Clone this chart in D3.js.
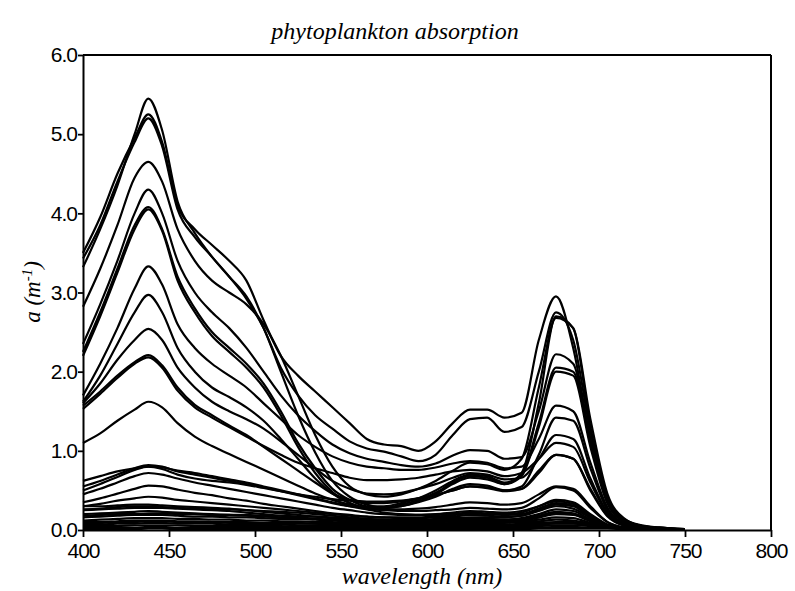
<!DOCTYPE html>
<html><head><meta charset="utf-8">
<script src="https://cdn.jsdelivr.net/npm/d3@7"></script>
<style>body{margin:0;background:#fff}</style>
</head><body>
<svg id="c" width="795" height="591"></svg>
<script>
const wavelengths = [400,410,420,430,438,446,455,465,475,485,495,505,515,525,535,545,555,565,575,585,595,605,615,625,635,645,655,665,675,685,695,705,715,725,735,750];
const xTicks = [400,450,500,550,600,650,700,750,800];
const yTicks = [0,1,2,3,4,5,6];
const titleText = "phytoplankton absorption";
const xLabel = "wavelength (nm)";

const s01 = [3.32,3.8,4.35,5.0,5.45,5.05,4.15,3.75,3.45,3.2,2.95,2.55,2.0,1.45,0.98,0.62,0.42,0.32,0.28,0.3,0.36,0.45,0.58,0.66,0.64,0.58,0.72,1.6,2.7,2.55,1.3,0.4,0.12,0.05,0.03,0.01];
const s02 = [3.5,3.95,4.5,4.95,5.25,4.9,4.1,3.8,3.6,3.4,3.15,2.65,2.2,1.95,1.75,1.55,1.35,1.15,1.08,1.06,1.0,1.12,1.35,1.52,1.52,1.42,1.48,2.4,2.95,2.3,1.15,0.38,0.13,0.06,0.03,0.01];
const s03 = [3.43,3.85,4.4,4.9,5.2,4.85,4.05,3.7,3.45,3.2,2.92,2.55,2.05,1.7,1.45,1.28,1.12,1.03,0.99,0.93,0.87,0.95,1.2,1.4,1.42,1.24,1.3,2.0,2.75,2.4,1.25,0.4,0.13,0.05,0.03,0.01];
const s04 = [2.82,3.3,3.85,4.45,4.65,4.4,3.8,3.4,3.15,3.0,2.85,2.6,2.2,1.7,1.2,0.8,0.55,0.45,0.42,0.45,0.52,0.62,0.75,0.85,0.83,0.76,0.9,1.8,2.68,2.55,1.4,0.45,0.14,0.05,0.03,0.01];
const s05 = [2.35,2.85,3.4,4.0,4.3,4.0,3.4,3.0,2.75,2.55,2.3,2.0,1.7,1.45,1.25,1.08,0.97,0.9,0.86,0.82,0.8,0.84,0.94,1.01,1.0,0.9,0.92,1.5,2.22,2.1,1.15,0.38,0.12,0.05,0.02,0];
const s06 = [2.25,2.75,3.3,3.85,4.08,3.8,3.2,2.8,2.5,2.3,2.1,1.85,1.5,1.1,0.78,0.52,0.38,0.3,0.3,0.34,0.4,0.5,0.62,0.7,0.68,0.6,0.7,1.35,2.05,2.0,1.1,0.35,0.1,0.04,0.02,0];
const s07 = [2.2,2.7,3.25,3.8,4.05,3.78,3.15,2.75,2.45,2.25,2.05,1.8,1.45,1.05,0.72,0.48,0.34,0.28,0.28,0.32,0.38,0.47,0.6,0.68,0.66,0.58,0.68,1.3,2.0,1.95,1.05,0.33,0.1,0.04,0.02,0];
const s08 = [1.7,2.1,2.55,3.05,3.33,3.1,2.6,2.3,2.1,1.95,1.8,1.6,1.4,1.2,1.05,0.93,0.85,0.8,0.78,0.76,0.76,0.79,0.84,0.87,0.85,0.78,0.8,1.15,1.57,1.5,0.85,0.28,0.08,0.03,0.02,0];
const s09 = [1.62,1.95,2.35,2.75,2.97,2.75,2.3,2.0,1.8,1.68,1.55,1.38,1.15,0.9,0.65,0.46,0.34,0.28,0.28,0.3,0.35,0.42,0.52,0.58,0.56,0.5,0.55,0.95,1.42,1.38,0.78,0.25,0.07,0.03,0.01,0];
const s10 = [1.6,1.85,2.15,2.4,2.54,2.4,2.05,1.8,1.62,1.5,1.4,1.28,1.12,0.95,0.78,0.62,0.52,0.46,0.45,0.47,0.52,0.58,0.66,0.72,0.7,0.64,0.66,0.9,1.2,1.15,0.65,0.22,0.07,0.03,0.01,0];
const s11 = [1.57,1.75,1.95,2.12,2.21,2.08,1.8,1.58,1.45,1.32,1.2,1.05,0.9,0.75,0.6,0.46,0.38,0.34,0.34,0.36,0.4,0.44,0.5,0.55,0.54,0.5,0.52,0.72,0.95,0.9,0.52,0.18,0.06,0.02,0.01,0];
const s12 = [1.53,1.72,1.92,2.1,2.18,2.05,1.76,1.55,1.42,1.3,1.18,1.06,0.95,0.85,0.78,0.72,0.66,0.63,0.63,0.64,0.66,0.7,0.74,0.76,0.74,0.68,0.72,0.9,1.1,1.05,0.6,0.2,0.06,0.02,0.01,0];
const s13 = [1.1,1.22,1.38,1.52,1.62,1.55,1.35,1.18,1.06,0.96,0.86,0.76,0.66,0.56,0.46,0.38,0.32,0.28,0.26,0.26,0.27,0.29,0.32,0.35,0.34,0.32,0.34,0.45,0.55,0.52,0.3,0.1,0.03,0.01,0.01,0];
const s14 = [0.55,0.62,0.7,0.78,0.82,0.8,0.74,0.7,0.66,0.62,0.58,0.54,0.49,0.44,0.39,0.34,0.3,0.27,0.25,0.24,0.24,0.25,0.26,0.28,0.27,0.26,0.28,0.4,0.54,0.5,0.28,0.1,0.03,0.01,0,0];
const s15 = [0.62,0.68,0.74,0.78,0.8,0.79,0.75,0.72,0.68,0.64,0.6,0.55,0.5,0.45,0.4,0.35,0.3,0.26,0.22,0.2,0.19,0.19,0.2,0.22,0.21,0.2,0.22,0.3,0.38,0.35,0.2,0.07,0.02,0.01,0,0];
const s16 = [0.45,0.52,0.6,0.68,0.72,0.7,0.65,0.6,0.56,0.52,0.48,0.44,0.4,0.36,0.32,0.28,0.25,0.22,0.2,0.19,0.19,0.2,0.22,0.24,0.23,0.22,0.24,0.3,0.36,0.33,0.18,0.06,0.02,0.01,0,0];
const s17 = [0.35,0.4,0.46,0.52,0.56,0.55,0.51,0.47,0.44,0.4,0.37,0.33,0.3,0.27,0.24,0.21,0.19,0.17,0.16,0.15,0.15,0.16,0.17,0.19,0.18,0.17,0.18,0.24,0.3,0.27,0.15,0.05,0.02,0.01,0,0];
const s18 = [0.5,0.58,0.67,0.76,0.8,0.77,0.7,0.65,0.62,0.6,0.57,0.53,0.49,0.45,0.42,0.39,0.37,0.36,0.36,0.37,0.4,0.44,0.5,0.55,0.53,0.49,0.52,0.75,0.95,0.9,0.5,0.17,0.05,0.02,0.01,0];
const s19 = [0.3,0.3,0.31,0.32,0.32,0.31,0.3,0.29,0.28,0.27,0.25,0.23,0.21,0.19,0.17,0.15,0.14,0.13,0.13,0.13,0.13,0.14,0.15,0.16,0.16,0.16,0.18,0.25,0.32,0.3,0.16,0.06,0.02,0.01,0,0];
const s20 = [0.25,0.26,0.27,0.28,0.28,0.28,0.27,0.26,0.25,0.24,0.22,0.2,0.18,0.16,0.14,0.13,0.12,0.11,0.11,0.11,0.11,0.12,0.13,0.14,0.14,0.13,0.15,0.2,0.26,0.24,0.13,0.05,0.02,0.01,0,0];
const s21 = [0.2,0.21,0.22,0.23,0.24,0.23,0.22,0.21,0.2,0.19,0.18,0.17,0.16,0.15,0.14,0.13,0.12,0.12,0.12,0.12,0.12,0.12,0.13,0.13,0.13,0.12,0.13,0.16,0.2,0.19,0.11,0.04,0.02,0.01,0,0];
const s22 = [0.16,0.17,0.18,0.19,0.19,0.19,0.18,0.17,0.17,0.16,0.16,0.15,0.14,0.14,0.13,0.12,0.11,0.11,0.1,0.1,0.1,0.1,0.11,0.11,0.11,0.1,0.11,0.13,0.16,0.15,0.09,0.04,0.02,0.01,0,0];
const s23 = [0.12,0.13,0.14,0.15,0.15,0.15,0.14,0.14,0.13,0.13,0.12,0.12,0.11,0.11,0.1,0.1,0.09,0.09,0.09,0.08,0.08,0.08,0.09,0.09,0.09,0.09,0.1,0.11,0.13,0.12,0.08,0.04,0.02,0.01,0,0];
const s24 = [0.1,0.1,0.11,0.12,0.12,0.12,0.11,0.11,0.1,0.1,0.1,0.09,0.09,0.09,0.08,0.08,0.08,0.07,0.07,0.07,0.07,0.07,0.07,0.08,0.08,0.07,0.08,0.09,0.1,0.1,0.07,0.04,0.02,0.01,0.01,0];
const s25 = [0.07,0.07,0.08,0.08,0.09,0.09,0.08,0.08,0.08,0.07,0.07,0.07,0.07,0.06,0.06,0.06,0.06,0.06,0.05,0.05,0.05,0.05,0.06,0.06,0.06,0.06,0.06,0.07,0.08,0.08,0.06,0.04,0.03,0.02,0.01,0];
const s26 = [0.05,0.05,0.05,0.06,0.06,0.06,0.06,0.05,0.05,0.05,0.05,0.05,0.05,0.04,0.04,0.04,0.04,0.04,0.04,0.04,0.04,0.04,0.04,0.04,0.04,0.04,0.05,0.05,0.06,0.06,0.05,0.04,0.03,0.02,0.01,0];
const s27 = [0.03,0.03,0.03,0.03,0.04,0.04,0.03,0.03,0.03,0.03,0.03,0.03,0.03,0.03,0.03,0.03,0.03,0.03,0.03,0.02,0.02,0.02,0.02,0.02,0.03,0.03,0.03,0.03,0.04,0.04,0.03,0.03,0.02,0.02,0.01,0];
const s28 = [0.3,0.33,0.37,0.4,0.42,0.41,0.38,0.36,0.34,0.32,0.3,0.28,0.26,0.24,0.22,0.2,0.18,0.17,0.16,0.16,0.16,0.17,0.19,0.21,0.2,0.19,0.2,0.27,0.34,0.31,0.17,0.06,0.02,0.01,0,0];
const s29 = [0.26,0.27,0.29,0.3,0.3,0.29,0.28,0.27,0.26,0.26,0.25,0.24,0.23,0.22,0.2,0.18,0.16,0.14,0.12,0.11,0.1,0.1,0.11,0.12,0.12,0.11,0.12,0.16,0.22,0.2,0.12,0.05,0.02,0.01,0,0];
const s30 = [0.18,0.19,0.2,0.2,0.21,0.21,0.2,0.2,0.19,0.19,0.19,0.18,0.18,0.17,0.17,0.16,0.15,0.14,0.13,0.12,0.12,0.12,0.13,0.14,0.14,0.13,0.14,0.18,0.23,0.21,0.12,0.05,0.02,0.01,0,0];
const s31 = [0.08,0.09,0.1,0.1,0.11,0.11,0.1,0.1,0.1,0.09,0.09,0.09,0.08,0.08,0.08,0.07,0.07,0.07,0.07,0.06,0.06,0.06,0.06,0.07,0.07,0.06,0.07,0.08,0.09,0.09,0.06,0.04,0.02,0.01,0.01,0];
const s32 = [0.01,0.01,0.01,0.01,0.02,0.02,0.01,0.01,0.01,0.01,0.01,0.01,0.01,0.01,0.01,0.01,0.01,0.01,0.01,0.01,0.01,0.01,0.01,0.01,0.01,0.01,0.01,0.02,0.02,0.02,0.02,0.02,0.01,0.01,0.01,0];

const seriesList = [s01,s02,s03,s04,s05,s06,s07,s08,s09,s10,s11,s12,s13,s14,s15,s16,s17,s18,s19,s20,s21,s22,s23,s24,s25,s26,s27,s28,s29,s30,s31,s32];

const svg = d3.select("#c");
const L = 83, R = 771, T = 55, B = 530;
const x = d3.scaleLinear().domain([400,800]).range([L,R]);
const y = d3.scaleLinear().domain([0,6]).range([B,T]);

const line = d3.line().x((d,i)=>x(wavelengths[i])).y(d=>y(d)).curve(d3.curveMonotoneX);
svg.append("g").selectAll("path").data(seriesList).join("path")
  .attr("d", line).attr("fill","none").attr("stroke","#000")
  .attr("stroke-width",2.2).attr("stroke-linejoin","round");

const tickFont = "'Liberation Sans', Arial, sans-serif";
const gx = svg.append("g").attr("transform",`translate(0,${B})`)
  .call(d3.axisBottom(x).tickValues(xTicks).tickFormat(d3.format("d")).tickSize(7).tickSizeOuter(0).tickPadding(6));
const gy = svg.append("g").attr("transform",`translate(${L},0)`)
  .call(d3.axisLeft(y).tickValues(yTicks).tickFormat(d3.format(".1f")).tickSize(5).tickSizeOuter(0).tickPadding(1));
[gx,gy].forEach(g=>{
  g.select(".domain").attr("stroke","#000").attr("stroke-width",2);
  g.selectAll(".tick line").attr("stroke","#000").attr("stroke-width",1.8);
  g.selectAll(".tick text").attr("fill","#000").style("font-family",tickFont)
   .style("font-size","21px").style("letter-spacing","-1px");
});
svg.append("line").attr("x1",L).attr("x2",R).attr("y1",T).attr("y2",T).attr("stroke","#000").attr("stroke-width",2);
svg.append("line").attr("x1",R).attr("x2",R).attr("y1",T).attr("y2",B).attr("stroke","#000").attr("stroke-width",2);

const serif = "'Liberation Serif','Times New Roman',serif";
svg.append("text").attr("x",395).attr("y",39).attr("text-anchor","middle")
  .style("font-family",serif).style("font-style","italic").style("font-size","24px").text(titleText);
svg.append("text").attr("x",422).attr("y",584).attr("text-anchor","middle")
  .style("font-family",serif).style("font-style","italic").style("font-size","24px").text(xLabel);
const yl = svg.append("text").attr("transform","translate(40,292) rotate(-90)").attr("text-anchor","middle")
  .style("font-family",serif).style("font-style","italic").style("font-size","23px");
yl.append("tspan").text("a (m");
yl.append("tspan").attr("dy",-8).style("font-size","15px").text("-1");
yl.append("tspan").attr("dy",8).text(")");
</script>
</body></html>
